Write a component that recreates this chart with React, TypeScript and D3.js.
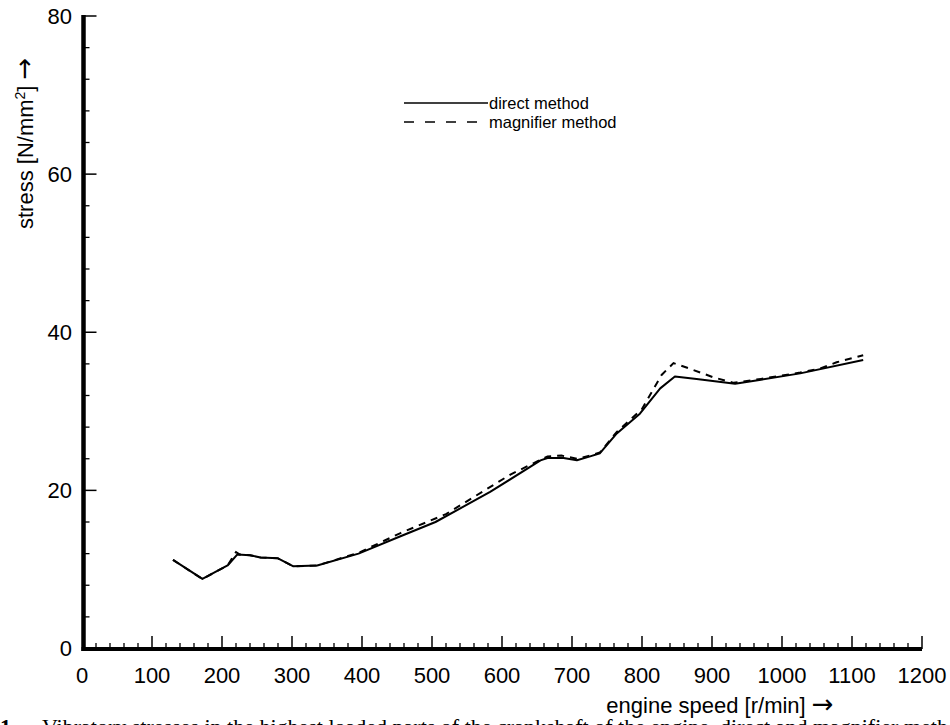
import React from "react";
import * as d3 from "d3";

const directSpeed = [130, 172, 208, 222, 240, 255, 280, 302, 336, 395, 455, 505, 583, 655, 665, 688, 707, 726, 740, 764, 797, 826, 847, 878, 933, 970, 1026, 1116];
const directStress = [11.2, 8.8, 10.5, 11.9, 11.8, 11.5, 11.4, 10.4, 10.5, 12.0, 14.2, 16.0, 19.8, 23.8, 24.1, 24.1, 23.8, 24.3, 24.7, 27.2, 29.7, 32.9, 34.4, 34.1, 33.5, 34.0, 34.8, 36.5];

const magSpeed = [130, 172, 208, 220, 225, 240, 255, 280, 302, 336, 395, 455, 520, 612, 665, 685, 707, 726, 740, 764, 800, 828, 845, 868, 902, 931, 970, 1026, 1054, 1078, 1116];
const magStress = [11.2, 8.8, 10.5, 12.2, 11.9, 11.8, 11.5, 11.4, 10.4, 10.5, 12.1, 14.6, 17.0, 22.0, 24.3, 24.4, 24.0, 24.4, 24.8, 27.4, 30.3, 34.6, 36.1, 35.4, 34.3, 33.6, 34.1, 34.9, 35.4, 36.2, 37.1];

const xMajorTicks = [0, 100, 200, 300, 400, 500, 600, 700, 800, 900, 1000, 1100, 1200];
const yMajorTicks = [0, 20, 40, 60, 80];

const seriesNames = ["direct method", "magnifier method"];
const xTitle = "engine speed [r/min] ";
const caption = "Vibratory stresses in the highest loaded parts of the crankshaft of the engine, direct and magnifier method";

export default function App() {
  const x = d3.scaleLinear().domain([0, 1200]).range([82, 922]);
  const y = d3.scaleLinear().domain([0, 80]).range([648.5, 16]);
  const line = d3
    .line<[number, number]>()
    .x((d) => x(d[0]))
    .y((d) => y(d[1]));
  const direct = directSpeed.map((s, i) => [s, directStress[i]] as [number, number]);
  const mag = magSpeed.map((s, i) => [s, magStress[i]] as [number, number]);
  const xMinor = d3.range(0, 1201, 20).filter((v) => v % 100 !== 0);
  const yMinor = d3.range(0, 81, 4).filter((v) => v % 20 !== 0);
  const font = "'Liberation Sans', Arial, Helvetica, sans-serif";
  const arrowFont = "'DejaVu Sans', sans-serif";
  const axisX = 83.5;
  const axisY = 649;

  return (
    <svg
      width={950}
      height={725}
      style={{ position: "absolute", left: 0, top: 0, background: "#fff", overflow: "hidden" }}
    >
      <rect x={0} y={0} width={950} height={725} fill="#fff" />
      {/* y axis */}
      <line x1={axisX} x2={axisX} y1={y(80) - 1} y2={axisY + 2} stroke="#000" strokeWidth={4.5} />
      {yMajorTicks.map((t) => (
        <g key={"ym" + t}>
          {t > 0 && <line x1={axisX} x2={axisX + 13} y1={y(t)} y2={y(t)} stroke="#000" strokeWidth={1.5} />}
          <text x={72} y={y(t)} dy="0.36em" textAnchor="end" fontFamily={font} fontSize={22} fill="#000">
            {t}
          </text>
        </g>
      ))}
      {yMinor.map((t) => (
        <line key={"yn" + t} x1={axisX} x2={axisX + 6} y1={y(t)} y2={y(t)} stroke="#000" strokeWidth={1.3} />
      ))}
      {/* x axis */}
      <line x1={axisX - 2} x2={x(1200)} y1={axisY} y2={axisY} stroke="#000" strokeWidth={4} />
      {xMajorTicks.map((t) => (
        <g key={"xm" + t}>
          {t > 0 && <line x1={x(t)} x2={x(t)} y1={axisY} y2={axisY - 13} stroke="#000" strokeWidth={1.5} />}
          <text x={x(t)} y={675} dy="0.36em" textAnchor="middle" fontFamily={font} fontSize={22} fill="#000">
            {t}
          </text>
        </g>
      ))}
      {xMinor.map((t) => (
        <line key={"xn" + t} x1={x(t)} x2={x(t)} y1={axisY} y2={axisY - 6} stroke="#000" strokeWidth={1.3} />
      ))}
      {/* axis titles */}
      <text transform="translate(33,229) rotate(-90)" fontFamily={font} fontSize={22} fill="#000">
        stress [N/mm<tspan dy={-8} fontSize={14}>2</tspan>
        <tspan dy={8}>] </tspan>
        <tspan fontFamily={arrowFont} fontSize={26}>{"\u2192"}</tspan>
      </text>
      <text x={720} y={713} textAnchor="middle" fontFamily={font} fontSize={22} fill="#000">
        {xTitle}
        <tspan fontFamily={arrowFont} fontSize={26}>{"\u2192"}</tspan>
      </text>
      {/* curves */}
      <path d={line(direct) || ""} fill="none" stroke="#000" strokeWidth={2} strokeLinejoin="round" />
      <path d={line(mag) || ""} fill="none" stroke="#000" strokeWidth={2} strokeDasharray="7,6" />
      {/* legend */}
      <line x1={404} x2={488} y1={103} y2={103} stroke="#000" strokeWidth={1.6} />
      <text x={489} y={109} fontFamily={font} fontSize={16.5} fill="#000">
        {seriesNames[0]}
      </text>
      <line x1={404} x2={488} y1={122} y2={122} stroke="#000" strokeWidth={1.6} strokeDasharray="10,11" />
      <text x={489} y={128} fontFamily={font} fontSize={16.5} fill="#000">
        {seriesNames[1]}
      </text>
      {/* caption (cut off at the bottom, as in the reference) */}
      <text x={0} y={734} fontFamily="'Liberation Serif', 'Times New Roman', serif" fontSize={22} fill="#000">
        <tspan fontWeight="bold">1</tspan>
        <tspan x={42}>{caption}</tspan>
      </text>
    </svg>
  );
}
